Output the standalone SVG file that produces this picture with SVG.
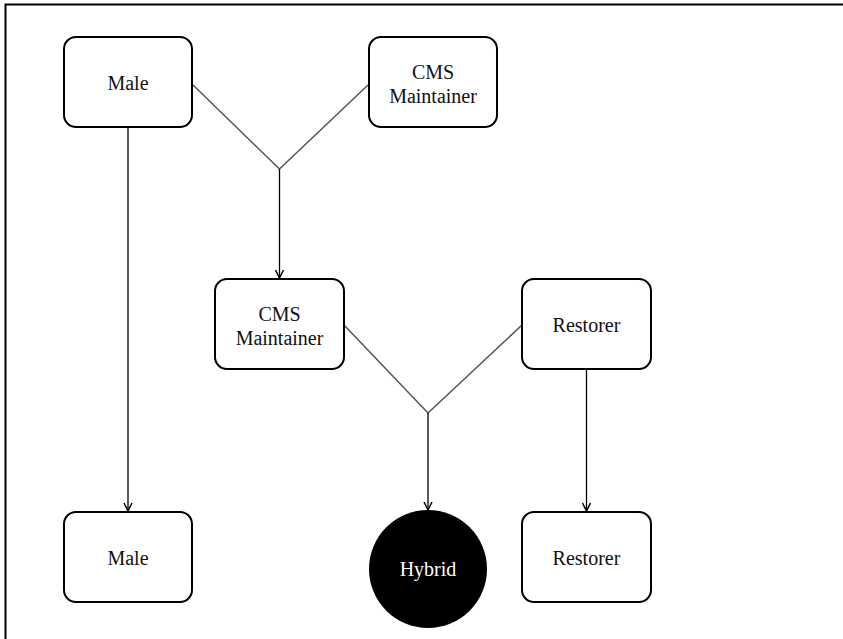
<svg xmlns="http://www.w3.org/2000/svg" width="843" height="639" viewBox="0 0 843 639">
<defs>
<style>
.box{fill:#fff;stroke:#000;stroke-width:2}
.lbl{font-family:"Liberation Serif","Times New Roman",serif;font-size:20px;fill:#111;text-anchor:middle}
.join{fill:none;stroke:#555;stroke-width:1.5}
.arr{fill:none;stroke:#000;stroke-width:1.3}
</style>
<marker id="ah" viewBox="0 0 10 10" refX="9" refY="5" markerWidth="10" markerHeight="10" markerUnits="userSpaceOnUse" orient="auto">
<path d="M1,1 L9,5 L1,9" fill="none" stroke="#000" stroke-width="1.5"/>
</marker>
</defs>
<rect x="0" y="0" width="843" height="639" fill="#fff"/>
<path d="M5.5,639 V4.5 H843" fill="none" stroke="#000" stroke-width="2"/>
<g id="connectors">
<path class="join" d="M193,85 L279.5,169 L368,85"/>
<path class="arr" d="M279.5,169 V278" marker-end="url(#ah)"/>
<path class="join" d="M344,325 L428,413 L522,325"/>
<path class="arr" d="M428,413 V510" marker-end="url(#ah)"/>
<path class="arr" d="M128,127 V511" marker-end="url(#ah)"/>
<path class="arr" d="M586.5,369 V511" marker-end="url(#ah)"/>
</g>
<g id="male-top"><rect class="box" x="64" y="37" width="128" height="90" rx="12"/><text class="lbl" x="128" y="90">Male</text></g>
<g id="cms-top"><rect class="box" x="369" y="37" width="128" height="90" rx="12"/><text class="lbl" x="433" y="79">CMS</text><text class="lbl" x="433" y="103">Maintainer</text></g>
<g id="cms-mid"><rect class="box" x="215" y="279" width="129" height="90" rx="12"/><text class="lbl" x="279.5" y="321">CMS</text><text class="lbl" x="279.5" y="345">Maintainer</text></g>
<g id="restorer-mid"><rect class="box" x="522" y="279" width="129" height="90" rx="12"/><text class="lbl" x="586.5" y="332">Restorer</text></g>
<g id="male-bottom"><rect class="box" x="64" y="512" width="128" height="90" rx="12"/><text class="lbl" x="128" y="565">Male</text></g>
<g id="hybrid"><ellipse cx="428" cy="569" rx="59" ry="59" fill="#000"/><text class="lbl" x="428" y="576" style="fill:#fff">Hybrid</text></g>
<g id="restorer-bottom"><rect class="box" x="522" y="512" width="129" height="90" rx="12"/><text class="lbl" x="586.5" y="565">Restorer</text></g>
</svg>
